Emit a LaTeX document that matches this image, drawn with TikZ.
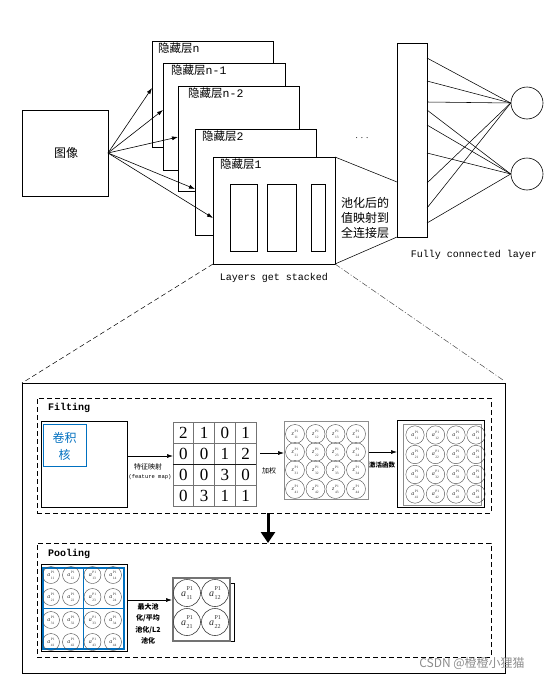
\documentclass[tikz,border=0pt]{standalone}
\usepackage{fontspec}
\setmainfont{Liberation Serif}
\setmonofont{Liberation Mono}
\newfontfamily\cjk{Noto Sans CJK SC}
\usetikzlibrary{arrows.meta,calc}
\definecolor{cblue}{RGB}{0,112,192}
\newcommand\clab[5]{{\fontsize{#3}{#3}\selectfont\itshape #1}\kern0.6pt\raisebox{-0.3em}{\fontsize{#4}{#4}\selectfont\shortstack[l]{P1\\[#5]#2}}}
\begin{document}
\begin{tikzpicture}[x=1pt,y=-1pt,
  rbox/.style={draw,line width=0.7pt,fill=white,inner sep=0pt,outer sep=0pt},
  conn/.style={line width=0.55pt},
  arr/.style={line width=0.6pt,-{Latex[length=6pt,width=4pt]}},
  lbl/.style={font=\cjk\fontsize{11.5}{13}\selectfont,inner sep=0pt,anchor=north west},
  mono/.style={font=\ttfamily\fontsize{10}{11}\selectfont,inner sep=0pt},
  dbox/.style={draw,line width=0.8pt,dash pattern=on 5pt off 3pt,inner sep=0pt,outer sep=0pt},
  small/.style={font=\cjk\fontsize{7}{8}\selectfont,inner sep=0pt},
  ring/.style={draw=black!70,line width=0.4pt},
  clabel/.style={inner sep=0pt,text=black!80},
  digit/.style={font=\fontsize{17}{17}\selectfont,inner sep=0pt}
]
\useasboundingbox (0,0) rectangle (557,680);

% ---------- top part ----------
\node[rbox,minimum width=86pt,minimum height=86pt] (img) at (65,153) {};
\node[font=\cjk\fontsize{12}{14}\selectfont,inner sep=0pt] (imgt) at (66,153) {图像};

\node[rbox,minimum width=121pt,minimum height=106pt] (Ln)  at (212.5,94) {};
\node[rbox,minimum width=122pt,minimum height=107pt] (Ln1) at (224,116.5) {};
\node[rbox,minimum width=121pt,minimum height=105pt] (Ln2) at (238.5,138.5) {};
\node[rbox,minimum width=121pt,minimum height=106pt] (L2)  at (255.5,182) {};
\node[rbox,minimum width=122pt,minimum height=107pt] (L1)  at (274,210.5) {};

\node[lbl] (tLn)  at ($(Ln.north west)+(6,2)$)  {隐藏层{\ttfamily n}};
\node[lbl] (tLn1) at ($(Ln1.north west)+(8,2)$) {隐藏层{\ttfamily n-1}};
\node[lbl] (tLn2) at ($(Ln2.north west)+(10,2)$) {隐藏层{\ttfamily n-2}};
\node[lbl] (tL2)  at ($(L2.north west)+(7,2)$)  {隐藏层{\ttfamily 2}};
\node[lbl] (tL1)  at ($(L1.north west)+(7,2)$)  {隐藏层{\ttfamily 1}};

\node[rbox,minimum width=27pt,minimum height=67pt] (R1) at (243.5,217.5) {};
\node[rbox,minimum width=29pt,minimum height=67pt] (R2) at (281.5,217.5) {};
\node[rbox,minimum width=14pt,minimum height=67pt] (R3) at (318,217.5) {};

\draw[arr] (img.east) -- ($(Ln.north west)+(0,47)$);
\draw[arr] (img.east) -- ($(Ln1.north west)+(0,47)$);
\draw[arr] (img.east) -- ($(Ln2.north west)+(0,51)$);
\draw[arr] (img.east) -- ($(L2.north west)+(0,60)$);
\draw[arr] (img.east) -- ($(L1.north west)+(0,61)$);

\node[mono] (stk) at (274,278) {Layers get stacked};
\node[font=\fontsize{9}{10}\selectfont,inner sep=0pt] (dots) at (362,138) {. . .};

\node[rbox,minimum width=30pt,minimum height=194pt] (FC) at (412,140) {};
\node[circle,draw,line width=0.6pt,minimum size=32pt,inner sep=0pt] (C1) at (527,103) {};
\node[circle,draw,line width=0.6pt,minimum size=32pt,inner sep=0pt] (C2) at (527,174) {};

\draw[conn] (L1.north east) -- ($(FC.north west)+(0,139)$);
\draw[conn] (L1.south east) -- (FC.south west);

\node[font=\cjk\fontsize{12}{15}\selectfont,align=center,inner sep=0pt] (pv) at (365,218) {池化后的\\值映射到\\全连接层};
\node[mono] (fcl) at (474,255) {Fully connected layer};

\foreach \yy in {15,38,59,140,165} \draw[conn] ($(FC.north east)+(0,\yy)$) -- (C1.west);
\foreach \yy in {67,82,110,180} \draw[conn] ($(FC.north east)+(0,\yy)$) -- (C2.west);

% ---------- bottom frame ----------
\node[draw,line width=0.8pt,minimum width=483pt,minimum height=290pt,inner sep=0pt,outer sep=0pt] (big) at (263.5,528) {};
\draw[line width=0.5pt,dash pattern=on 5pt off 3pt] (L1.south west) -- (big.north west);
\draw[line width=0.5pt,black!70,dash pattern=on 6pt off 2pt on 1pt off 2pt] (L1.south east) -- ($(big.north east)+(-2,-3)$);

\node[dbox,minimum width=454pt,minimum height=115pt] (filt) at (264,455.5) {};
\node[dbox,minimum width=454pt,minimum height=114pt] (pool) at (264,600) {};
\node[font=\ttfamily\bfseries\fontsize{10}{11}\selectfont,inner sep=0pt,anchor=west] (tfilt) at (48,408) {Filting};
\node[font=\ttfamily\bfseries\fontsize{10}{11}\selectfont,inner sep=0pt,anchor=west] (tpool) at (48,554) {Pooling};

% kernel
\node[rbox,minimum width=86pt,minimum height=86pt] (conv) at (84,464) {};
\node[draw=cblue,line width=0.8pt,minimum width=43pt,minimum height=42pt,inner sep=0pt] (ker) at (64.5,445) {};
\node[font=\cjk\fontsize{12}{17}\selectfont,text=cblue,align=center,inner sep=0pt] (kert) at (64.5,446) {卷积\\核};

% feature map matrix
\node[draw=black!55,line width=0.6pt,minimum width=83pt,minimum height=84pt,inner sep=0pt,outer sep=0pt] (M) at (214.5,464) {};
\foreach \i in {1,2,3} {
  \draw[black!55,line width=0.6pt] ($(M.north west)+(\i*20.75,0)$) -- ($(M.south west)+(\i*20.75,0)$);
}
\draw[black!55,line width=0.6pt] ($(M.north west)+(0,21)$) -- ($(M.north east)+(0,21)$);
\draw[black!90,line width=0.7pt] ($(M.north west)+(0,42)$) -- ($(M.north east)+(0,42)$);
\draw[black!55,line width=0.6pt] ($(M.north west)+(0,63)$) -- ($(M.north east)+(0,63)$);
\foreach \v [count=\k from 0] in {2,1,0,1,0,0,1,2,0,0,3,0,0,3,1,1} {
  \pgfmathtruncatemacro\rr{int(\k/4)}
  \pgfmathtruncatemacro\cc{mod(\k,4)}
  \node[digit] (m\k) at ({173+(\cc+0.5)*20.75},{422+(\rr+0.5)*21}) {\v};
}

\draw[arr] ($(conv.east)+(0,-8)$) -- ($(M.west)+(0,-8)$);
\node[small] (tz1) at (148,467) {特征映射};
\node[font=\ttfamily\fontsize{5.5}{6}\selectfont,inner sep=0pt] (tz2) at (150,477) {(feature map)};

% Z grid
\node[draw=black!45,line width=0.6pt,minimum width=84pt,minimum height=78pt,inner sep=0pt,outer sep=0pt] (Z) at (326,460) {};
\foreach \r/\yy in {1/434,2/452,3/470,4/489} {
  \foreach \c/\xx in {1/295,2/315.5,3/335.5,4/356} {
    \draw[ring] (\xx,\yy) circle[radius=9.5pt];
    \node[clabel] (z\r\c) at (\xx,\yy) {\clab{z}{\r\c}{6}{3.5}{0.6pt}};
  }
}
\coordinate (ms) at ($(M.east)+(4,-11)$);
\draw[arr] (ms) -- (ms -| Z.west);
\node[small] (tjq) at (269,471) {加权};

% A grid
\node[draw,line width=0.8pt,minimum width=87pt,minimum height=87pt,inner sep=0pt,outer sep=0pt] (A) at (440.5,463.5) {};
\node[draw=black!45,line width=0.6pt,minimum width=78pt,minimum height=81pt,inner sep=0pt] (Ai) at (442,464.5) {};
\foreach \r/\yy in {1/435,2/454.5,3/474.5,4/494} {
  \foreach \c/\xx in {1/415,2/435.5,3/456,4/476} {
    \draw[ring] (\xx,\yy) circle[radius=9.2pt];
    \node[clabel] (a\r\c) at (\xx,\yy) {\clab{a}{\r\c}{6}{3.5}{0.6pt}};
  }
}
\coordinate (zs) at ($(Z.east)+(1,-8)$);
\draw[arr] (zs) -- (zs -| A.west);
\node[font=\cjk\bfseries\fontsize{6.5}{8}\selectfont,inner sep=0pt] (tact) at (382,465) {激活函数};

% big down arrow
\draw[line width=3pt,-{Triangle[length=11pt,width=14pt]}] ($(filt.south)+(4,0)$) -- ($(pool.north)+(4,0)$);

% pooling input grid
\node[draw,line width=0.7pt,minimum width=86pt,minimum height=87pt,inner sep=0pt,outer sep=0pt] (P) at (84,607.5) {};
\node[draw=cblue,line width=1.2pt,minimum width=81pt,minimum height=81pt,inner sep=0pt,outer sep=0pt] (Pb) at (83.5,608.5) {};
\draw[cblue,line width=1.2pt] (Pb.north) -- (Pb.south);
\draw[cblue,line width=1.2pt] (Pb.west) -- (Pb.east);
\foreach \r/\yy in {1/575,2/597,3/620,4/642} {
  \foreach \c/\xx in {1/51,2/71,3/92.5,4/113} {
    \draw[ring] (\xx,\yy) circle[radius=8.5pt];
    \node[clabel] (p\r\c) at (\xx,\yy) {\clab{a}{\r\c}{6}{3.5}{0.6pt}};
  }
}

\coordinate (pa) at ($(P.east)+(45,-7.5)$);
\draw[arr] ($(P.east)+(0,-7.5)$) -- (pa);
\node[font=\cjk\bfseries\fontsize{7}{11.5}\selectfont,align=center,inner sep=0pt] (tpl) at (148,624) {最大池\\化/平均\\池化/L2\\池化};

% pooled output
\node[draw=black!55,line width=1.2pt,minimum width=57pt,minimum height=63pt,inner sep=0pt,outer sep=0pt] (Q) at (201.5,609.5) {};
\draw[line width=0.6pt] ($(Q.north east)+(1,5)$) -- ($(Q.north east)+(4,5)$) -- ($(Q.south east)+(4,0)$) -- ($(Q.south east)+(1,0)$);
\foreach \r/\yy in {1/593,2/622} {
  \foreach \c/\xx in {1/187,2/215} {
    \draw[draw=black!75,line width=0.6pt] (\xx,\yy) circle[radius=13.5pt];
    \node[clabel] (q\r\c) at (\xx,\yy) {\clab{a}{\r\c}{10}{6}{2pt}};
  }
}

% watermark
\node[font=\cjk\fontsize{12}{14}\selectfont,text=black!45,inner sep=0pt] (wm) at (472,663) {CSDN @橙橙小狸猫};
\end{tikzpicture}
\end{document}
